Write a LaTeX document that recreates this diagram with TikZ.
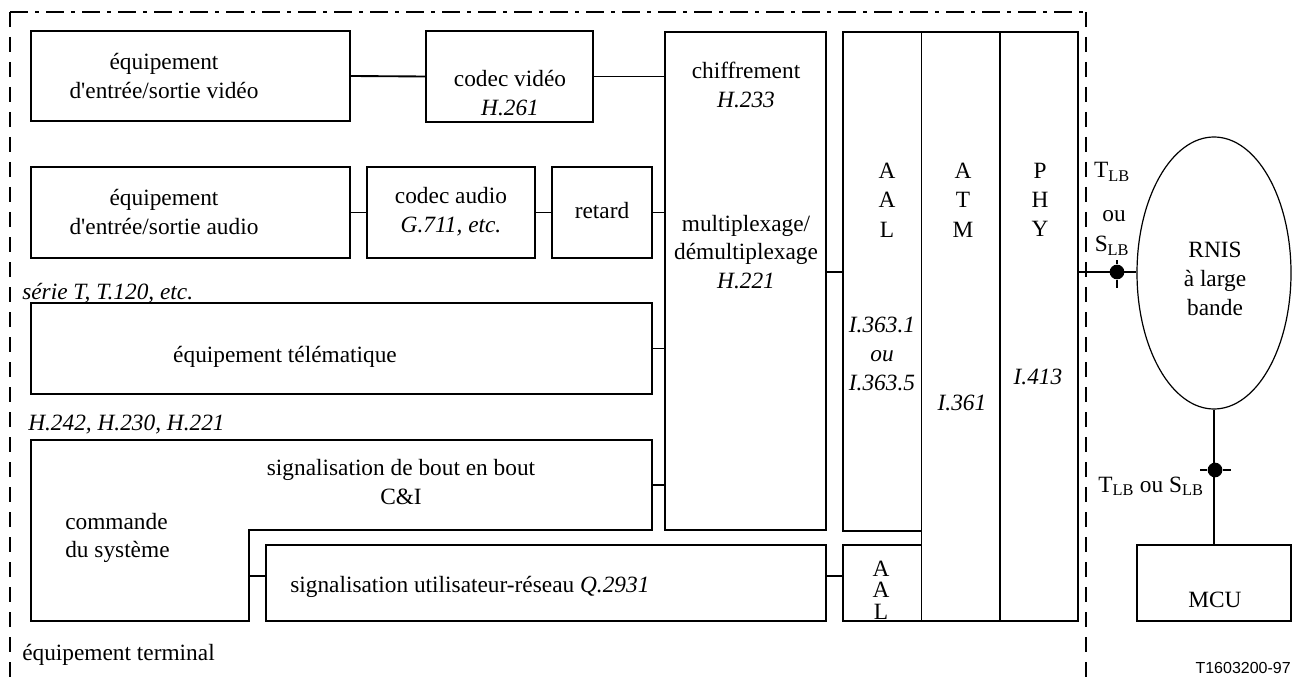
\documentclass[tikz,border=0pt]{standalone}
\usepackage{fontspec}
\setmainfont{Liberation Serif}
\newfontfamily\idfont{Liberation Sans}
\newcommand\aposq{\XeTeXglyph\XeTeXcharglyph"27\relax}
\usetikzlibrary{fit,shapes.geometric}
\begin{document}
\begin{tikzpicture}[x=0.75pt,y=-0.75pt,
  box/.style={draw, line width=0.9pt, inner sep=0pt},
  conn/.style={line width=1.4pt},
  txt/.style={font=\fontsize{17.5}{21.5}\selectfont, align=center, inner sep=0pt},
  ltxt/.style={font=\fontsize{17.5}{21.5}\selectfont, align=left, inner sep=0pt},
  letters/.style={font=\fontsize{17.5}{22}\selectfont, align=center, inner sep=0pt},
  frameline/.style={line width=1.8pt},
  jdot/.style={circle, fill=black, inner sep=0pt, minimum size=11pt}]
\useasboundingbox (0,0) rectangle (1294,677);

% terminal frame
\draw[frameline, dash pattern=on 13.5pt off 5.25pt on 3pt off 5.25pt] (10,12) -- (1086,12);
\draw[frameline, dash pattern=on 11.25pt off 7.5pt] (10,12) -- (10,677);
\draw[frameline, dash pattern=on 11.25pt off 7.5pt] (1086,12) -- (1086,677);

% boxes
\node[box, fit={(31,31) (350,121)}] (veq) {};
\node[box, fit={(426,31) (593,122)}] (vcod) {};
\node[box, fit={(665,32) (826,530)}] (mux) {};
\node[box, fit={(843,32) (921.5,531)}] (aal) {};
\node[box, fit={(921.5,32) (1000,621)}] (atm) {};
\node[box, fit={(1000,32) (1078,621)}] (phy) {};
\node[box, fit={(843,545) (921.5,621)}] (aal2) {};
\node[box, fit={(31,167) (350,258)}] (aeq) {};
\node[box, fit={(367,167) (535,258)}] (acod) {};
\node[box, fit={(552,167) (652,258)}] (ret) {};
\node[box, fit={(31,303) (652,394)}] (tel) {};
\node[box, fit={(266,545) (826,621)}] (sur) {};
\node[box, fit={(1137,545) (1291,621)}] (mcu) {};
\node[draw, line width=0.9pt, ellipse, inner sep=0pt, minimum width=115.5pt, minimum height=204pt] (rnis) at (1214,273) {};

% signalisation de bout en bout / commande du systeme
\draw[line width=0.9pt] (31,440) -- (652,440) -- (652,530) -- (249,530) -- (249,621) -- (31,621) -- cycle;
\coordinate (sbR) at (652,485);
\coordinate (cmdR) at (249,576);
\coordinate (j1) at (1117,272);
\coordinate (j2) at (1215,470);

% texts
\node[txt] (veqt) at (164,76) {équipement\\d\aposq entrée/sortie vidéo};
\node[txt] (vcodt) at (510,93) {codec vidéo\\\textit{H.261}};
\node[txt] (chif) at (746,85) {chiffrement\\\textit{H.233}};
\node[txt] (muxt) at (746,252) {multiplexage/\\démultiplexage\\\textit{H.221}};
\node[txt] (aeqt) at (164,212) {équipement\\d\aposq entrée/sortie audio};
\node[txt] (acodt) at (451,212) {codec audio\\\textit{G.711, etc.}};
\node[txt] (rett) at (602,211) {retard};
\node[ltxt, anchor=base west] (serie) at (22,299) {\textit{série T, T.120, etc.}};
\node[txt] (telt) at (285,357) {équipement télématique};
\node[ltxt, anchor=base west] (hlab) at (28,430) {\textit{H.242, H.230, H.221}};
\node[txt] (sbt) at (401,482) {signalisation de bout en bout\\C\&I};
\node[ltxt, anchor=west] (cmdt) at (65,538) {commande\\du système};
\node[ltxt, anchor=base west] (surt) at (290,592) {signalisation utilisateur-réseau \textit{Q.2931}};
\node[ltxt, anchor=base west] (term) at (22,660) {équipement terminal};

\node[letters] (aall) at (887,200) {A\\A\\L};
\node[letters] (atml) at (963,200) {A\\T\\M};
\node[letters] (phyl) at (1040,200) {P\\H\\Y};
\node[letters] (aali) at (882,354) {\textit{I.363.1}\\\textit{ou}\\\textit{I.363.5}};
\node[txt] (atmi) at (962,403) {\textit{I.361}};
\node[txt] (phyi) at (1038,377) {\textit{I.413}};
\node[font=\fontsize{17.5}{16}\selectfont, align=center, inner sep=0pt] (aal2l) at (881,590) {A\\A\\L};

\node[txt, anchor=base] (tlb) at (1112,178) {T\textsubscript{LB}};
\node[txt, anchor=base] (ou) at (1114,222) {ou};
\node[txt, anchor=base] (slb) at (1112,252) {S\textsubscript{LB}};
\node[txt] (rnist) at (1215,279) {RNIS\\à large\\bande};
\node[txt, anchor=base] (tsl) at (1151,492) {T\textsubscript{LB} ou S\textsubscript{LB}};
\node[txt, anchor=base] (mcut) at (1215,607) {MCU};
\node[font=\idfont\fontsize{12}{14}\selectfont, inner sep=0pt, anchor=base east] (fid) at (1291,673) {T1603200-97};

% connectors
\draw[conn] (veq.east) -- (vcod.west);
\draw[conn] (vcod.east) -- (vcod.east -| mux.west);
\draw[conn] (aeq.east) -- (acod.west);
\draw[conn] (acod.east) -- (ret.west);
\draw[conn] (ret.east) -- (ret.east -| mux.west);
\draw[conn] (tel.east) -- (tel.east -| mux.west);
\draw[conn] (sbR) -- (sbR -| mux.west);
\draw[conn] (cmdR) -- (cmdR -| sur.west);
\draw[conn] (cmdR -| sur.east) -- (cmdR -| aal2.west);
\draw[conn] (j1 -| mux.east) -- (j1 -| aal.west);
\draw[conn] (j1 -| phy.east) -- (j1 -| rnis.west);
\draw[conn] (rnis.south) -- (mcu.north);

% reference points
\node[jdot] (d1) at (j1) {};
\draw[conn] (1117,260) -- (d1) -- (1117,288);
\node[jdot] (d2) at (j2) {};
\draw[conn] (1200,470) -- (d2) -- (1231,470);
\end{tikzpicture}
\end{document}
